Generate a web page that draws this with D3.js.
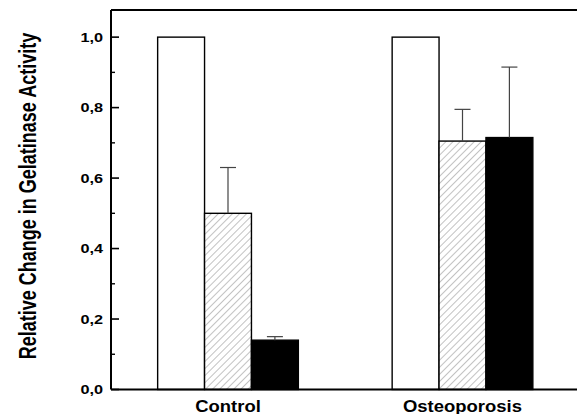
<!DOCTYPE html>
<html>
<head>
<meta charset="utf-8">
<script src="https://cdn.jsdelivr.net/npm/d3@7"></script>
<style>
  body { margin: 0; background: #fff; }
  text { font-family: "Liberation Sans", Arial, sans-serif; font-weight: bold; fill: #000; }
</style>
</head>
<body>
<svg id="vis" width="577" height="414"></svg>
<script>
var groups = ["Control", "Osteoporosis"];
var series = ["open", "hatched", "filled"];
var controlValues = [1.0, 0.50, 0.14];
var controlErrors = [0, 0.13, 0.01];
var osteoValues = [1.0, 0.705, 0.715];
var osteoErrors = [0, 0.09, 0.20];
var yTicks = [0, 0.2, 0.4, 0.6, 0.8, 1.0];
var yMinorTicks = [0.1, 0.3, 0.5, 0.7, 0.9];

var svg = d3.select("#vis");

var plotLeft = 111, plotTop = 10, plotBottom = 389.5;

var x0 = d3.scaleBand().domain(groups).range([plotLeft - 0.25, plotLeft + 468.75]);
var x1 = d3.scaleBand().domain(series).range([0, x0.bandwidth()]).paddingOuter(1);
var y = d3.scaleLinear().domain([0, 1.077]).range([plotBottom, plotTop]);

var data = [];
groups.forEach(function(g, gi) {
  var vals = gi == 0 ? controlValues : osteoValues;
  var errs = gi == 0 ? controlErrors : osteoErrors;
  series.forEach(function(s, si) {
    data.push({group: g, series: s, value: vals[si], err: errs[si]});
  });
});

// hatch pattern
var defs = svg.append("defs");
var pat = defs.append("pattern")
    .attr("id", "hatch")
    .attr("patternUnits", "userSpaceOnUse")
    .attr("width", 5).attr("height", 5)
    .attr("patternTransform", "rotate(45)");
pat.append("rect").attr("width", 5).attr("height", 5).attr("fill", "#fff");
pat.append("line")
    .attr("x1", 0).attr("y1", 0).attr("x2", 0).attr("y2", 5)
    .attr("stroke", "#777").attr("stroke-width", 0.9);

function fillFor(s) {
  if (s == "hatched") return "url(#hatch)";
  if (s == "filled") return "#000";
  return "#fff";
}

// bars
svg.append("g").selectAll("rect")
    .data(data)
    .enter().append("rect")
      .attr("x", function(d) { return x0(d.group) + x1(d.series); })
      .attr("y", function(d) { return y(d.value); })
      .attr("width", x1.bandwidth())
      .attr("height", function(d) { return y(0) - y(d.value); })
      .attr("fill", function(d) { return fillFor(d.series); })
      .attr("stroke", "#000")
      .attr("stroke-width", 1.4);

// error bars
var eb = svg.append("g").selectAll("g")
    .data(data.filter(function(d) { return d.err > 0; }))
    .enter().append("g");
eb.append("line")
    .attr("x1", function(d) { return x0(d.group) + x1(d.series) + x1.bandwidth() / 2; })
    .attr("x2", function(d) { return x0(d.group) + x1(d.series) + x1.bandwidth() / 2; })
    .attr("y1", function(d) { return y(d.value); })
    .attr("y2", function(d) { return y(d.value + d.err); })
    .attr("stroke", "#444").attr("stroke-width", 1.2);
eb.append("line")
    .attr("x1", function(d) { return x0(d.group) + x1(d.series) + x1.bandwidth() / 2 - 8; })
    .attr("x2", function(d) { return x0(d.group) + x1(d.series) + x1.bandwidth() / 2 + 8; })
    .attr("y1", function(d) { return y(d.value + d.err); })
    .attr("y2", function(d) { return y(d.value + d.err); })
    .attr("stroke", "#444").attr("stroke-width", 1.2);

// frame
var plotRight = x0.range()[1];
svg.append("line").attr("x1", plotLeft).attr("x2", plotRight).attr("y1", plotTop).attr("y2", plotTop)
    .attr("stroke", "#000").attr("stroke-width", 1.8);
svg.append("line").attr("x1", plotLeft).attr("x2", plotRight).attr("y1", plotBottom).attr("y2", plotBottom)
    .attr("stroke", "#000").attr("stroke-width", 1.8);
svg.append("line").attr("x1", plotLeft).attr("x2", plotLeft).attr("y1", plotTop).attr("y2", plotBottom)
    .attr("stroke", "#000").attr("stroke-width", 2);

// y ticks (inward)
svg.append("g").selectAll("line")
    .data(yTicks)
    .enter().append("line")
      .attr("x1", plotLeft).attr("x2", plotLeft + 8)
      .attr("y1", function(d) { return y(d); })
      .attr("y2", function(d) { return y(d); })
      .attr("stroke", "#000").attr("stroke-width", 1.6);
svg.append("g").selectAll("line")
    .data(yMinorTicks)
    .enter().append("line")
      .attr("x1", plotLeft).attr("x2", plotLeft + 4)
      .attr("y1", function(d) { return y(d); })
      .attr("y2", function(d) { return y(d); })
      .attr("stroke", "#000").attr("stroke-width", 1.4);

var fmt = function(d) { return d3.format(".1f")(d).replace(".", ","); };
svg.append("g").selectAll("text")
    .data(yTicks)
    .enter().append("text")
      .attr("transform", function(d) { return "translate(103," + (y(d) + 4.8) + ") scale(1.25,1)"; })
      .attr("text-anchor", "end")
      .style("font-size", "13px")
      .text(fmt);

// category labels
svg.append("g").selectAll("text")
    .data(groups)
    .enter().append("text")
      .attr("transform", function(d) { return "translate(" + (x0(d) + x0.bandwidth() / 2) + ",411.5) scale(1.12,1)"; })
      .attr("text-anchor", "middle")
      .style("font-size", "16.5px")
      .text(function(d) { return d; });

// y title
svg.append("text")
    .attr("transform", "translate(36,196) rotate(-90) scale(1,1.35)")
    .attr("text-anchor", "middle")
    .style("font-size", "18px")
    .text("Relative Change in Gelatinase Activity");
</script>
</body>
</html>
